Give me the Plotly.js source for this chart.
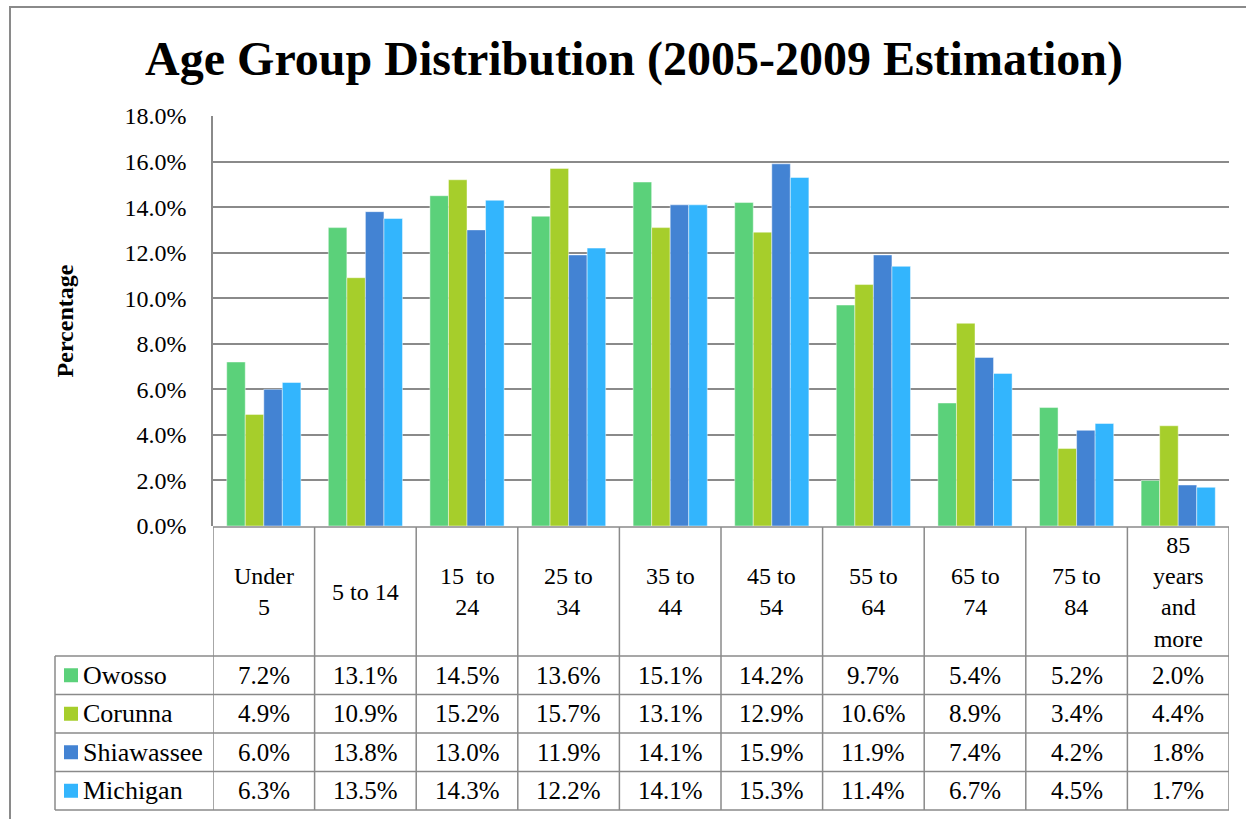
<!DOCTYPE html>
<html>
<head>
<meta charset="utf-8">
<script src="https://cdn.plot.ly/plotly-3.0.1.min.js"></script>
<style>html,body{margin:0;padding:0;background:#fff;}#chart{width:1246px;height:819px;}</style>
</head>
<body>
<div id="chart"></div>
<script>
// ---- data ----
const categories = ["Under 5", "5 to 14", "15 to 24", "25 to 34", "35 to 44", "45 to 54", "55 to 64", "65 to 74", "75 to 84", "85 years and more"];
const headerLabels = ["Under<br>5", "5 to 14", "15\u00a0 to<br>24", "25 to<br>34", "35 to<br>44", "45 to<br>54", "55 to<br>64", "65 to<br>74", "75 to<br>84", "85<br>years<br>and<br>more"];
const seriesNames = ["Owosso", "Corunna", "Shiawassee", "Michigan"];
const owosso     = [7.2, 13.1, 14.5, 13.6, 15.1, 14.2, 9.7, 5.4, 5.2, 2.0];
const corunna    = [4.9, 10.9, 15.2, 15.7, 13.1, 12.9, 10.6, 8.9, 3.4, 4.4];
const shiawassee = [6.0, 13.8, 13.0, 11.9, 14.1, 15.9, 11.9, 7.4, 4.2, 1.8];
const michigan   = [6.3, 13.5, 14.3, 12.2, 14.1, 15.3, 11.4, 6.7, 4.5, 1.7];
const yTickValues = [0, 2, 4, 6, 8, 10, 12, 14, 16, 18];

// ---- styles ----
const seriesValues = [owosso, corunna, shiawassee, michigan];
const colors = ["#5bd17a", "#a6ce2b", "#4383d3", "#33b5fd"];
const FONT = "Liberation Serif";
const LINE = "#8a8a8a";
const W = 1246, H = 819;
const M = {l: 213, r: 17, t: 116, b: 293};
const plotW = W - M.l - M.r, plotH = H - M.t - M.b;
const bottomPx = H - M.b;
const py = p => (bottomPx - p) / plotH;      // pixel y -> paper y
const px = p => (p - M.l) / plotW;           // pixel x -> paper x

const traces = seriesNames.map((name, s) => ({
  type: "bar",
  name: name,
  x: categories,
  y: seriesValues[s],
  marker: {color: colors[s], line: {color: "rgba(255,255,255,0.45)", width: 1}},
  hoverinfo: "x+y+name",
  showlegend: false
}));

const shapes = [];
const annotations = [];

// table geometry (pixels)
const headerTop = bottomPx + 1, headerBottom = 656;
const rowH = 38.5;
const legendLeft = 55;
const tableBottom = headerBottom + rowH * seriesNames.length;

// outer chart border
shapes.push({type: "rect", xref: "paper", yref: "paper", x0: px(10), x1: px(1260), y0: py(840), y1: py(7),
  line: {color: LINE, width: 2}, fillcolor: "rgba(0,0,0,0)", layer: "below"});

// header top line
shapes.push({type: "line", xref: "paper", yref: "paper", x0: 0, x1: 1, y0: py(headerTop), y1: py(headerTop), line: {color: LINE, width: 1.5}});
// row lines
for (let r = 0; r <= seriesNames.length; r++) {
  const yy = py(headerBottom + r * rowH);
  shapes.push({type: "line", xref: "paper", yref: "paper", x0: px(legendLeft), x1: 1, y0: yy, y1: yy, line: {color: LINE, width: 1.5}});
}
// legend column left border
shapes.push({type: "line", xref: "paper", yref: "paper", x0: px(legendLeft), x1: px(legendLeft), y0: py(headerBottom), y1: py(tableBottom), line: {color: LINE, width: 1.5}});
// vertical column lines at category boundaries
for (let i = 0; i <= categories.length; i++) {
  shapes.push({type: "line", xref: "x", yref: "paper", x0: i - 0.5, x1: i - 0.5, y0: py(headerTop), y1: py(tableBottom), line: {color: LINE, width: 1.5}});
}

// header labels
categories.forEach((c, i) => {
  annotations.push({xref: "x", yref: "paper", x: i, y: py((headerTop + headerBottom) / 2), text: headerLabels[i],
    showarrow: false, xanchor: "center", yanchor: "middle", font: {family: FONT, size: 24, color: "#000"}});
});

// data rows + legend
seriesNames.forEach((name, s) => {
  const cy = headerBottom + rowH * (s + 0.5);
  shapes.push({type: "rect", xref: "paper", yref: "paper", x0: px(64), x1: px(78), y0: py(cy + 7), y1: py(cy - 7),
    fillcolor: colors[s], line: {width: 0}});
  annotations.push({xref: "paper", yref: "paper", x: px(81), y: py(cy), text: name, showarrow: false,
    xanchor: "left", yanchor: "middle", font: {family: FONT, size: 26, color: "#000"}});
  seriesValues[s].forEach((v, i) => {
    annotations.push({xref: "x", yref: "paper", x: i, y: py(cy), text: v.toFixed(1) + "%", showarrow: false,
      xanchor: "center", yanchor: "middle", font: {family: FONT, size: 25, color: "#000"}});
  });
});

const layout = {
  width: W, height: H,
  margin: M,
  paper_bgcolor: "#fff", plot_bgcolor: "#fff",
  font: {family: FONT, color: "#000"},
  title: {text: "<b>Age Group Distribution (2005-2009 Estimation)</b>", font: {family: FONT, size: 48, color: "#000"},
    x: 634 / W, xanchor: "center", xref: "container", y: 1 - 58 / H, yanchor: "middle", yref: "container"},
  barmode: "group",
  bargap: 0.27,
  bargroupgap: 0,
  xaxis: {type: "category", range: [-0.5, categories.length - 0.5], showticklabels: false, showgrid: false,
    zeroline: false, showline: false, ticks: "", fixedrange: true},
  yaxis: {range: [0, 18], tickvals: yTickValues, ticktext: yTickValues.map(v => v.toFixed(1) + "%"),
    showgrid: true, gridcolor: LINE, gridwidth: 1.5, zeroline: false, showline: true, linecolor: LINE, linewidth: 1.5,
    ticks: "", ticklabelstandoff: 20, tickfont: {family: FONT, size: 24, color: "#000"},
    title: {text: "<b>Percentage</b>", font: {family: FONT, size: 24, color: "#000"}, standoff: 44}},
  shapes: shapes,
  annotations: annotations
};

Plotly.newPlot("chart", traces, layout, {displayModeBar: false});
</script>
</body>
</html>
